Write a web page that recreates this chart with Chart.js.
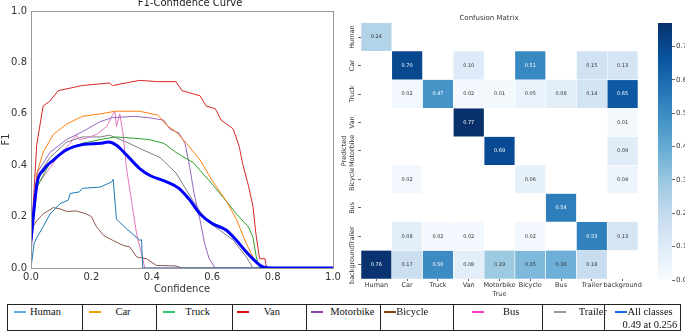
<!DOCTYPE html>
<html>
<head>
<meta charset="utf-8">
<script src="https://cdn.jsdelivr.net/npm/chart.js@4.4.1/dist/chart.umd.min.js"></script>
<style>
  html, body { margin: 0; padding: 0; background: #fff; }
  body { width: 685px; height: 332px; position: relative; overflow: hidden; }
  canvas { position: absolute; }
  #f1 { left: 0; top: 0; }
  #cm { left: 340px; top: 0; }
  #cbar { left: 650px; top: 0; }
  #legend {
    position: absolute; left: 7px; top: 304px; height: 27px;
    display: flex; border: 1px solid #222; box-sizing: border-box;
    font-family: "Liberation Serif", serif; font-size: 10.5px; color: #111;
  }
  #legend .cell { position: relative; height: 100%; border-left: 1px solid #222; box-sizing: border-box; }
  #legend .cell:first-child { border-left: none; }
  #legend .dash { position: absolute; top: 6px; width: 12px; height: 2px; }
  #legend .txt { position: absolute; top: 0px; white-space: nowrap; line-height: 13px; }
</style>
</head>
<body>
<canvas id="f1" width="350" height="298"></canvas>
<canvas id="cm" width="318" height="298"></canvas>
<canvas id="cbar" width="35" height="298"></canvas>
<div id="legend"></div>
<script>
// ---- F1-confidence curves (x = confidence, y = F1) ----
const humanX = [0, 0.01, 0.02, 0.04, 0.063, 0.096, 0.123, 0.13, 0.16, 0.17, 0.23, 0.267, 0.272, 0.283, 0.316, 0.36, 0.366, 0.37, 1.0];
const humanY = [0, 0.095, 0.12, 0.16, 0.21, 0.25, 0.264, 0.29, 0.296, 0.31, 0.315, 0.335, 0.345, 0.19, 0.153, 0.108, 0.11, 0, 0];

const carX = [0, 0.02, 0.04, 0.074, 0.118, 0.17, 0.23, 0.28, 0.36, 0.42, 0.45, 0.48, 0.515, 0.56, 0.6, 0.647, 0.68, 0.713, 0.746, 0.77, 1.0];
const carY = [0.1, 0.37, 0.45, 0.52, 0.56, 0.59, 0.6, 0.61, 0.61, 0.595, 0.555, 0.53, 0.485, 0.42, 0.34, 0.26, 0.19, 0.095, 0.017, 0, 0];

const truckX = [0, 0.02, 0.063, 0.118, 0.17, 0.23, 0.28, 0.34, 0.39, 0.44, 0.48, 0.537, 0.59, 0.647, 0.68, 0.72, 0.735, 0.746, 0.757, 1.0];
const truckY = [0.1, 0.315, 0.41, 0.46, 0.485, 0.5, 0.51, 0.505, 0.5, 0.485, 0.45, 0.41, 0.34, 0.26, 0.21, 0.16, 0.12, 0.043, 0, 0];

const vanX = [0, 0.019, 0.04, 0.063, 0.09, 0.17, 0.26, 0.27, 0.36, 0.42, 0.48, 0.5, 0.56, 0.58, 0.61, 0.63, 0.66, 0.67, 0.69, 0.7, 0.72, 0.735, 0.745, 0.757, 0.775, 0.78, 1.0];
const vanY = [0.1, 0.48, 0.63, 0.65, 0.69, 0.71, 0.72, 0.71, 0.73, 0.725, 0.725, 0.69, 0.67, 0.63, 0.62, 0.575, 0.55, 0.54, 0.47, 0.41, 0.32, 0.24, 0.13, 0.036, 0.036, 0, 0];

const motoX = [0, 0.02, 0.063, 0.118, 0.17, 0.23, 0.27, 0.34, 0.39, 0.44, 0.46, 0.49, 0.51, 0.526, 0.54, 0.56, 0.575, 0.59, 0.61, 1.0];
const motoY = [0.05, 0.37, 0.45, 0.5, 0.53, 0.57, 0.585, 0.59, 0.585, 0.575, 0.54, 0.525, 0.485, 0.39, 0.29, 0.185, 0.095, 0.036, 0, 0];

const bicycleX = [0, 0.02, 0.04, 0.074, 0.096, 0.118, 0.15, 0.184, 0.2, 0.217, 0.24, 0.27, 0.305, 0.327, 0.35, 0.383, 0.415, 0.48, 0.5, 1.0];
const bicycleY = [0.15, 0.185, 0.21, 0.235, 0.23, 0.22, 0.222, 0.21, 0.2, 0.16, 0.127, 0.108, 0.088, 0.082, 0.043, 0.036, 0.01, 0.008, 0, 0];

const busX = [0, 0.02, 0.063, 0.096, 0.13, 0.15, 0.16, 0.184, 0.217, 0.25, 0.27, 0.278, 0.283, 0.294, 0.305, 0.316, 0.333, 0.35, 0.366, 0.377, 1.0];
const busY = [0.1, 0.32, 0.39, 0.445, 0.485, 0.517, 0.5, 0.505, 0.52, 0.55, 0.595, 0.61, 0.55, 0.6, 0.52, 0.39, 0.26, 0.13, 0.056, 0, 0];

const trailerX = [0, 0.02, 0.063, 0.118, 0.17, 0.23, 0.26, 0.316, 0.37, 0.427, 0.48, 0.537, 0.58, 0.625, 0.67, 0.713, 0.735, 1.0];
const trailerY = [0.1, 0.355, 0.43, 0.49, 0.51, 0.51, 0.517, 0.49, 0.46, 0.43, 0.37, 0.26, 0.185, 0.147, 0.108, 0.043, 0, 0];

const allX = [0, 0.02, 0.04, 0.074, 0.118, 0.17, 0.23, 0.256, 0.283, 0.316, 0.36, 0.394, 0.449, 0.49, 0.526, 0.56, 0.6, 0.647, 0.68, 0.713, 0.746, 0.768, 0.8, 1.0];
const allY = [0.108, 0.33, 0.38, 0.42, 0.46, 0.48, 0.485, 0.49, 0.478, 0.44, 0.387, 0.36, 0.335, 0.31, 0.264, 0.21, 0.173, 0.147, 0.108, 0.062, 0.023, 0.004, 0, 0];

// ---- confusion matrix (rows = predicted, cols = true) ----
const predLabels = ["Human", "Car", "Truck", "Van", "Motorbike", "Bicycle", "Bus", "Trailer", "background"];
const trueLabels = ["Human", "Car", "Truck", "Van", "Motorbike", "Bicycle", "Bus", "Trailer", "background"];
const cmValues = [
  [0.24, 0, 0, 0, 0, 0, 0, 0, 0],
  [0, 0.70, 0, 0.10, 0, 0.51, 0, 0.15, 0.13],
  [0, 0.02, 0.47, 0.02, 0.01, 0.05, 0.08, 0.14, 0.65],
  [0, 0, 0, 0.77, 0, 0, 0, 0, 0.01],
  [0, 0, 0, 0, 0.69, 0, 0, 0, 0.09],
  [0, 0.02, 0, 0, 0, 0.06, 0, 0, 0.04],
  [0, 0, 0, 0, 0, 0, 0.54, 0, 0],
  [0, 0.08, 0.02, 0.02, 0, 0.02, 0, 0.53, 0.13],
  [0.76, 0.17, 0.50, 0.08, 0.29, 0.35, 0.38, 0.18, 0]
];
const cmMax = 0.77;
const cbarTicks = [0, 0.1, 0.2, 0.3, 0.4, 0.5, 0.6, 0.7];

// ---- legend table ----
const legendLabels = ["Human", "Car", "Truck", "Van", "Motorbike", "Bicycle", "Bus", "Trailer", "All classes"];
const legendColors = ["#5dade2", "#f39c12", "#2ecc71", "#e01010", "#8e44ad", "#8b4513", "#ff33cc", "#999999", "#1a6fe0"];

// Blues colormap
const BLUES = [[247,251,255],[222,235,247],[198,219,239],[158,202,225],[107,174,214],[66,146,198],[33,113,181],[8,81,156],[8,48,107]];
function bluesRgb(t) {
  t = Math.max(0, Math.min(1, t));
  const p = t * 8, i = Math.min(7, Math.floor(p)), f = p - i;
  const a = BLUES[i], b = BLUES[i + 1];
  return [0, 1, 2].map(k => Math.round(a[k] + (b[k] - a[k]) * f));
}
function blues(t) { const c = bluesRgb(t); return `rgb(${c[0]},${c[1]},${c[2]})`; }

const pts = (xs, ys) => xs.map((x, i) => ({ x: x, y: ys[i] }));

// frame around plot area + title (title sits off-centre in the original)
const framePlugin = {
  id: "frame",
  afterDraw(chart) {
    const a = chart.chartArea, c = chart.ctx;
    c.save();
    c.strokeStyle = "#999";
    c.lineWidth = 1;
    c.strokeRect(Math.round(a.left) + 0.5, Math.round(a.top) + 0.5, Math.round(a.right - a.left), Math.round(a.bottom - a.top));
    c.fillStyle = "#222";
    c.font = "10px 'DejaVu Sans'";
    c.textAlign = "center";
    c.textBaseline = "middle";
    c.fillText("F1-Confidence Curve", 190, 3);
    c.restore();
  }
};

const tickFont = { family: "DejaVu Sans", size: 10 };

new Chart(document.getElementById("f1"), {
  type: "line",
  data: {
    datasets: [
      { label: "Human", data: pts(humanX, humanY), borderColor: "#1f77b4" },
      { label: "Car", data: pts(carX, carY), borderColor: "#ff7f0e" },
      { label: "Truck", data: pts(truckX, truckY), borderColor: "#2ca02c" },
      { label: "Van", data: pts(vanX, vanY), borderColor: "#d62728" },
      { label: "Motorbike", data: pts(motoX, motoY), borderColor: "#9467bd" },
      { label: "Bicycle", data: pts(bicycleX, bicycleY), borderColor: "#8c564b" },
      { label: "Bus", data: pts(busX, busY), borderColor: "#e377c2" },
      { label: "Trailer", data: pts(trailerX, trailerY), borderColor: "#7f7f7f" },
      { label: "all classes 0.49 at 0.256", data: pts(allX, allY), borderColor: "#0000ff",
        borderWidth: 3, tension: 0.4, cubicInterpolationMode: "monotone", order: 0 },
    ].map(d => Object.assign({ borderWidth: 1, pointRadius: 0, fill: false, order: 1 }, d))
  },
  options: {
    animation: false,
    responsive: false,
    layout: { padding: { top: 11, right: 17, bottom: 0, left: 0 } },
    plugins: {
      legend: { display: false },
      tooltip: { enabled: false },
      title: { display: false }
    },
    scales: {
      x: {
        type: "linear", min: 0, max: 1,
        ticks: { stepSize: 0.2, font: tickFont, color: "#333", padding: 3, maxRotation: 0,
          callback: v => v.toFixed(1) },
        grid: { display: false, drawTicks: false },
        border: { display: false },
        title: { display: true, text: "Confidence", color: "#333", font: tickFont, padding: { top: 0, bottom: 3 } },
        afterFit: s => { s.height = 30; }
      },
      y: {
        type: "linear", min: 0, max: 1,
        ticks: { stepSize: 0.2, font: tickFont, color: "#333", padding: 4,
          callback: v => v.toFixed(1) },
        grid: { display: false, drawTicks: false },
        border: { display: false },
        title: { display: true, text: "F1", color: "#333", font: tickFont, padding: 0 },
        afterFit: s => { s.width = 31; }
      }
    }
  },
  plugins: [framePlugin]
});

// ---- confusion matrix heatmap ----
const cmLabelPlugin = {
  id: "cmLabels",
  afterDatasetsDraw(chart) {
    const c = chart.ctx, xs = chart.scales.x, ys = chart.scales.y;
    c.save();
    c.textAlign = "center";
    c.textBaseline = "middle";
    c.font = "5px 'DejaVu Sans'";
    cmValues.forEach((row, r) => row.forEach((v, col) => {
      if (v <= 0) return;
      const rgb = bluesRgb(v / cmMax);
      const lum = (0.299 * rgb[0] + 0.587 * rgb[1] + 0.114 * rgb[2]) / 255;
      c.fillStyle = lum < 0.55 ? "#fff" : "#333";
      c.fillText(v.toFixed(2), xs.getPixelForValue(col), ys.getPixelForValue(r + 0.5));
    }));
    // rotated row labels
    c.fillStyle = "#333";
    c.font = "6.5px 'DejaVu Sans'";
    predLabels.forEach((lab, r) => {
      c.save();
      c.translate(chart.chartArea.left - 9, ys.getPixelForValue(r + 0.5));
      c.rotate(-Math.PI / 2);
      c.fillText(lab, 0, 0);
      c.restore();
    });
    c.restore();
  }
};

const smallFont = { family: "DejaVu Sans", size: 6.5 };

new Chart(document.getElementById("cm"), {
  type: "bar",
  data: {
    labels: trueLabels,
    datasets: predLabels.map((p, r) => ({
      label: p,
      data: cmValues[r].map(v => v > 0 ? [r, r + 1] : null),
      backgroundColor: ctx => blues(cmValues[r][ctx.dataIndex] / cmMax),
      borderColor: "#fff",
      borderWidth: 0.6,
      grouped: false,
      barPercentage: 1,
      categoryPercentage: 1
    }))
  },
  options: {
    animation: false,
    responsive: false,
    layout: { padding: { top: 0, right: 20, bottom: 0, left: 0 } },
    plugins: {
      legend: { display: false },
      tooltip: { enabled: false },
      title: {
        display: true, text: "Confusion Matrix", color: "#333",
        font: { family: "DejaVu Sans", size: 7, weight: "normal", lineHeight: 1.2 }, padding: { top: 13.5, bottom: 1 }
      }
    },
    scales: {
      x: {
        type: "category",
        ticks: { font: smallFont, color: "#333", padding: 0, maxRotation: 0, autoSkip: false },
        grid: { display: true, drawOnChartArea: false, offset: false, tickLength: 2, color: "#666" },
        border: { display: false },
        title: { display: true, text: "True", color: "#333", font: smallFont, padding: 0 },
        afterFit: s => { s.height = 19; }
      },
      y: {
        type: "linear", min: 0, max: 9, reverse: true,
        afterBuildTicks: s => { s.ticks = predLabels.map((_, i) => ({ value: i + 0.5 })); },
        ticks: { display: false },
        grid: { display: true, drawOnChartArea: false, tickLength: 3, color: "#666" },
        border: { display: false },
        title: { display: true, text: "Predicted", color: "#333", font: smallFont, padding: 0 },
        afterFit: s => { s.width = 21; }
      }
    }
  },
  plugins: [cmLabelPlugin]
});

// ---- colorbar ----
new Chart(document.getElementById("cbar"), {
  type: "bar",
  data: {
    labels: [""],
    datasets: [{
      data: [[0, cmMax]],
      barPercentage: 1, categoryPercentage: 1, borderWidth: 0,
      backgroundColor: ctx => {
        const a = ctx.chart.chartArea;
        if (!a) return "#6baed6";
        const g = ctx.chart.ctx.createLinearGradient(0, a.bottom, 0, a.top);
        BLUES.forEach((c, i) => g.addColorStop(i / 8, `rgb(${c[0]},${c[1]},${c[2]})`));
        return g;
      }
    }]
  },
  options: {
    animation: false,
    responsive: false,
    layout: { padding: { top: 23, right: 0, bottom: 18, left: 8 } },
    plugins: { legend: { display: false }, tooltip: { enabled: false } },
    scales: {
      x: { display: false },
      y: {
        position: "right", min: 0, max: cmMax,
        afterBuildTicks: s => { s.ticks = cbarTicks.map(v => ({ value: v })); },
        ticks: { font: { family: "DejaVu Sans", size: 7 }, color: "#333", padding: 1, callback: v => v.toFixed(1) },
        grid: { display: true, drawOnChartArea: false, tickLength: 3, color: "#666" },
        border: { display: false },
        afterFit: s => { s.width = 13; }
      }
    }
  }
});

// ---- legend row below ----
const cellWidths = [74.6, 74.2, 75.5, 74.8, 74.2, 73, 89, 62, 77];
const dashLeft = [6, 6, 6, 4, 4, 3, 18, 11, 10];
const textLeft = [22, 32, 28, 31, 23, 15, 49, 36, 23];
const legend = document.getElementById("legend");
legendLabels.forEach((lab, i) => {
  const cell = document.createElement("div");
  cell.className = "cell";
  cell.style.width = cellWidths[i] + "px";
  const dash = document.createElement("span");
  dash.className = "dash";
  dash.style.left = dashLeft[i] + "px";
  dash.style.background = legendColors[i];
  const txt = document.createElement("span");
  txt.className = "txt";
  txt.style.left = textLeft[i] + "px";
  if (i === legendLabels.length - 1) {
    txt.innerHTML = lab + "<br><span style='margin-left:-5px'>0.49 at 0.256</span>";
  } else {
    txt.textContent = lab;
  }
  cell.appendChild(dash);
  cell.appendChild(txt);
  legend.appendChild(cell);
});
legend.style.width = cellWidths.reduce((a, b) => a + b, 0) + "px";
</script>
</body>
</html>
